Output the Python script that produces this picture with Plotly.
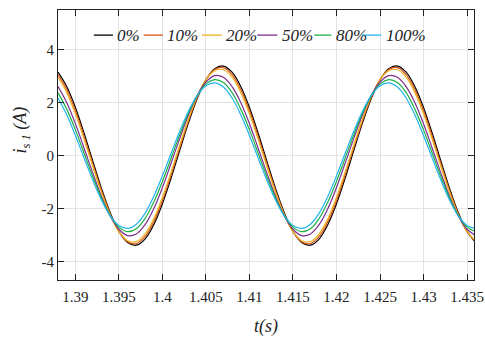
import numpy as np
import plotly.graph_objects as go

# Time base (s), 1 ms sampling
t = np.round(np.arange(1.388, 1.4365, 0.001), 3)

# Stator phase current i_s1 (A) for each load level
load_labels = ["0%", "10%", "20%", "50%", "80%", "100%"]

i_0 = [3.14, 2.60, 1.81, 0.84, -0.21, -1.24, -2.15, -2.85, -3.27, -3.37,
       -3.14, -2.60, -1.81, -0.84, 0.21, 1.24, 2.15, 2.85, 3.27, 3.37,
       3.14, 2.60, 1.81, 0.84, -0.21, -1.24, -2.15, -2.85, -3.27, -3.37,
       -3.14, -2.60, -1.81, -0.84, 0.21, 1.24, 2.15, 2.85, 3.27, 3.37,
       3.14, 2.60, 1.81, 0.84, -0.21, -1.24, -2.15, -2.85, -3.27]
i_10 = [3.05, 2.49, 1.69, 0.72, -0.31, -1.32, -2.20, -2.86, -3.24, -3.31,
        -3.05, -2.49, -1.69, -0.72, 0.31, 1.32, 2.20, 2.86, 3.24, 3.31,
        3.05, 2.49, 1.69, 0.72, -0.31, -1.32, -2.20, -2.86, -3.24, -3.31,
        -3.05, -2.49, -1.69, -0.72, 0.31, 1.32, 2.20, 2.86, 3.24, 3.31,
        3.05, 2.49, 1.69, 0.72, -0.31, -1.32, -2.20, -2.86, -3.24]
i_20 = [2.95, 2.38, 1.57, 0.61, -0.41, -1.39, -2.23, -2.86, -3.20, -3.23,
        -2.95, -2.38, -1.57, -0.61, 0.41, 1.39, 2.23, 2.86, 3.20, 3.23,
        2.95, 2.38, 1.57, 0.61, -0.41, -1.39, -2.23, -2.86, -3.20, -3.23,
        -2.95, -2.38, -1.57, -0.61, 0.41, 1.39, 2.23, 2.86, 3.20, 3.23,
        2.95, 2.38, 1.57, 0.61, -0.41, -1.39, -2.23, -2.86, -3.20]
i_50 = [2.60, 2.00, 1.20, 0.28, -0.66, -1.54, -2.27, -2.77, -3.01, -2.95,
        -2.60, -2.00, -1.20, -0.28, 0.66, 1.54, 2.27, 2.77, 3.01, 2.95,
        2.60, 2.00, 1.20, 0.28, -0.66, -1.54, -2.27, -2.77, -3.01, -2.95,
        -2.60, -2.00, -1.20, -0.28, 0.66, 1.54, 2.27, 2.77, 3.01, 2.95,
        2.60, 2.00, 1.20, 0.28, -0.66, -1.54, -2.27, -2.77, -3.01]
i_80 = [2.37, 1.75, 0.97, 0.09, -0.80, -1.61, -2.26, -2.69, -2.86, -2.75,
        -2.37, -1.75, -0.97, -0.09, 0.80, 1.61, 2.26, 2.69, 2.86, 2.75,
        2.37, 1.75, 0.97, 0.09, -0.80, -1.61, -2.26, -2.69, -2.86, -2.75,
        -2.37, -1.75, -0.97, -0.09, 0.80, 1.61, 2.26, 2.69, 2.86, 2.75,
        2.37, 1.75, 0.97, 0.09, -0.80, -1.61, -2.26, -2.69, -2.86]
i_100 = [2.17, 1.54, 0.76, -0.09, -0.93, -1.68, -2.27, -2.63, -2.74, -2.58,
         -2.17, -1.54, -0.76, 0.09, 0.93, 1.68, 2.27, 2.63, 2.74, 2.58,
         2.17, 1.54, 0.76, -0.09, -0.93, -1.68, -2.27, -2.63, -2.74, -2.58,
         -2.17, -1.54, -0.76, 0.09, 0.93, 1.68, 2.27, 2.63, 2.74, 2.58,
         2.17, 1.54, 0.76, -0.09, -0.93, -1.68, -2.27, -2.63, -2.74]

series = [i_0, i_10, i_20, i_50, i_80, i_100]
colors = ["#000000", "#D95319", "#EDB120", "#7E2F8E", "#1DB04A", "#22B4EE"]

x_ticks = [1.39, 1.395, 1.4, 1.405, 1.41, 1.415, 1.42, 1.425, 1.43, 1.435]
x_ticklabels = ["1.39", "1.395", "1.4", "1.405", "1.41", "1.415", "1.42", "1.425", "1.43", "1.435"]
y_ticks = [-4, -2, 0, 2, 4]
y_ticklabels = ["-4", "-2", "0", "2", "4"]

FONT = "Liberation Serif"

fig = go.Figure()
for lab, y, c in zip(load_labels, series, colors):
    fig.add_trace(go.Scatter(x=t, y=y, mode="lines", name=lab,
                             line=dict(color=c, width=1.2, shape="spline"),
                             showlegend=False))

# Compact one-row legend inside the top of the axes
legend_line = [(0.086, 0.132), (0.206, 0.252), (0.346, 0.394), (0.479, 0.527),
               (0.616, 0.657), (0.731, 0.777)]
shapes = []
annotations = []
for (x0, x1), lab, c in zip(legend_line, load_labels, colors):
    shapes.append(dict(type="line", xref="paper", yref="paper", x0=x0, x1=x1,
                       y0=0.907, y1=0.907, line=dict(color=c, width=1.3)))
    annotations.append(dict(xref="paper", yref="paper", x=x1 + 0.006, y=0.907,
                            xanchor="left", yanchor="middle", showarrow=False,
                            text="<i>" + lab + "</i>",
                            font=dict(family=FONT, size=17, color="#222")))

# Axis titles
annotations.append(dict(xref="paper", yref="paper", x=0.499, y=-0.174,
                        xanchor="center", yanchor="middle", showarrow=False,
                        text="<i>t(s)</i>", font=dict(family=FONT, size=18, color="#222")))
annotations.append(dict(xref="paper", yref="paper", x=-0.088, y=0.555,
                        xanchor="center", yanchor="middle", showarrow=False, textangle=-90,
                        text="<i>i</i><sub><i>s 1</i></sub><i> (A)</i>",
                        font=dict(family=FONT, size=18, color="#222")))

fig.update_layout(
    width=485, height=338,
    margin=dict(l=58, r=11, t=10, b=58),
    paper_bgcolor="white", plot_bgcolor="white",
    font=dict(family=FONT, size=14, color="#222"),
    shapes=shapes, annotations=annotations,
)
fig.update_xaxes(
    range=[1.388, 1.4358], tickvals=x_ticks, ticktext=x_ticklabels,
    ticks="inside", ticklen=6, tickcolor="#222", mirror="ticks",
    showline=True, linecolor="#222", linewidth=1, automargin=False,
    showgrid=True, gridcolor="#e3e3e3", gridwidth=1, zeroline=False,
    ticklabelstandoff=3,
    tickfont=dict(family=FONT, size=15),
)
fig.update_yaxes(
    range=[-4.68, 5.48], tickvals=y_ticks, ticktext=y_ticklabels,
    ticks="inside", ticklen=6, tickcolor="#222", mirror="ticks",
    showline=True, linecolor="#222", linewidth=1, automargin=False,
    showgrid=True, gridcolor="#e3e3e3", gridwidth=1, zeroline=False,
    tickfont=dict(family=FONT, size=15),
)

fig.write_html("out.html")
